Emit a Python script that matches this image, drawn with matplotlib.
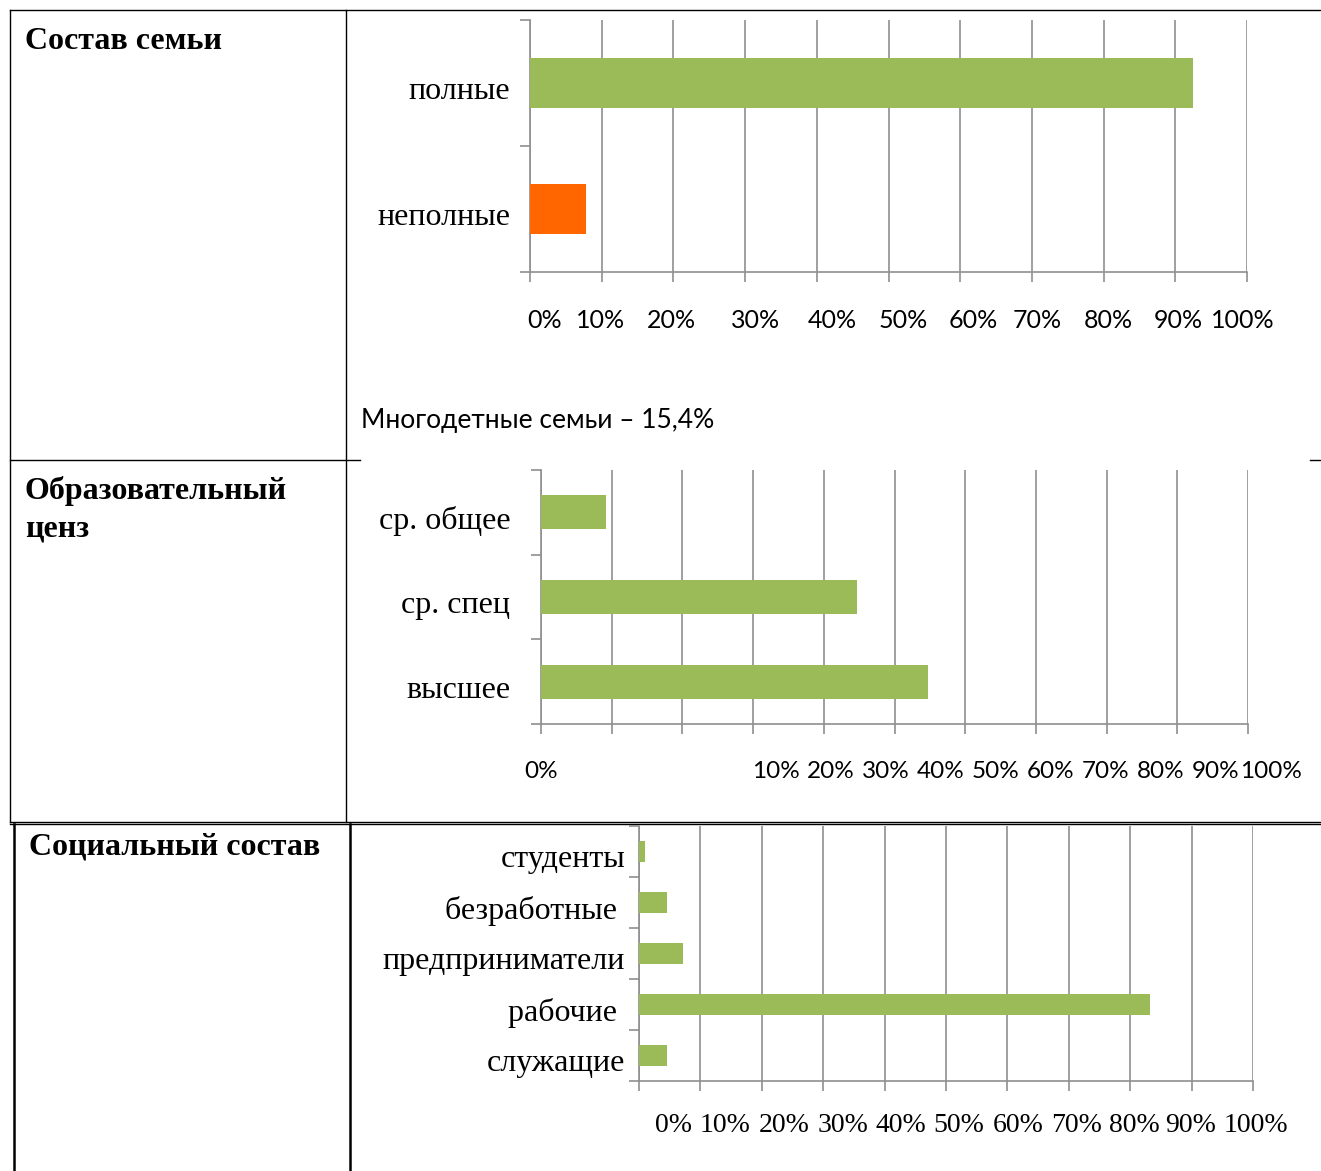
import numpy as np
import matplotlib
matplotlib.use("Agg")
import matplotlib.pyplot as plt
import matplotlib.transforms as mtransforms

# данные
family_cats = ["неполные", "полные"]
family_vals = [7.8, 92.5]
family_colors = ["#FF6600", "#9BBB59"]

edu_cats = ["высшее", "ср. спец", "ср. общее"]
edu_vals = [54.7, 44.7, 9.2]

soc_cats = ["служащие", "рабочие ", "предприниматели", "безработные ", "студенты"]
soc_vals = [4.6, 83.2, 7.2, 4.6, 1.0]

pct_ticks = list(range(0, 101, 10))
pct_labels = [f"{t}%" for t in pct_ticks]

W, H = 1321, 1171
GREEN = "#9BBB59"
GRID = "#8F8F8F"
SERIF = "Liberation Serif"
SANS = "Lato"


def rect(l, t, r, b):
    return [l / W, 1 - b / H, (r - l) / W, (b - t) / H]


fig = plt.figure(figsize=(W / 100, H / 100), dpi=100)

# фон: таблица
bg = fig.add_axes([0, 0, 1, 1])
bg.set_xlim(0, W)
bg.set_ylim(H, 0)
bg.axis("off")

lines = [
    ((10, 1321), (10, 10)),
    ((10, 10), (10, 822)),
    ((346, 346), (10, 822)),
    ((10, 360), (460, 460)),
    ((1310, 1321), (460, 460)),
    ((10, 1321), (822, 822)),
    ((10, 1321), (824, 824)),
]
for xs, ys in lines:
    bg.plot(xs, ys, color="black", lw=1.0)
bg.plot((14, 14), (824, 1171), color="black", lw=1.8)
bg.plot((350, 350), (824, 1171), color="black", lw=1.8)

bold = dict(family=SERIF, fontsize=23, fontweight="bold", va="baseline")
bg.text(25, 49, "Состав семьи", **bold)
bg.text(25, 499, "Образовательный", **bold)
bg.text(25, 537, "ценз", **bold)
bg.text(29, 854, "Социальный состав", **bold)
bg.text(361, 428, "Многодетные семьи – 15,4%", family=SANS, fontsize=19, va="baseline")

# сдвиг подписей категорий чуть вниз (как в Word)
shift_down = mtransforms.ScaledTranslation(0, -5 / 100, fig.dpi_scale_trans)


def bar_chart(box, cats, vals, colors, cat_pad, cat_font):
    ax = fig.add_axes(rect(*box))
    n = len(cats)
    y = np.arange(n)
    ax.barh(y, vals, height=0.4, color=colors, zorder=3)
    for s in ["top", "right"]:
        ax.spines[s].set_visible(False)
    for s in ["left", "bottom"]:
        ax.spines[s].set_color(GRID)
        ax.spines[s].set_linewidth(1.2)
    ax.set_xticks(pct_ticks)
    ax.set_xticklabels([])
    ax.xaxis.grid(True, color=GRID, lw=1.2, zorder=0)
    ax.set_yticks(np.arange(n + 1) - 0.5)
    ax.set_yticklabels([])
    ax.set_yticks(y, minor=True)
    ax.set_yticklabels(cats, minor=True, family=cat_font, fontsize=23)
    ax.tick_params(axis="both", which="major", direction="out", length=7,
                   width=1.2, color=GRID)
    ax.tick_params(axis="y", which="minor", length=0, pad=cat_pad)
    for lab in ax.get_yticklabels(minor=True):
        lab.set_transform(lab.get_transform() + shift_down)
    ax.set_xlim(0, 100)
    ax.set_ylim(-0.5, n - 0.5)
    ax.patch.set_alpha(0)
    return ax


def pct_axis_labels(ax, positions, drop, family, size):
    # подписи оси X стоят не точно под линиями сетки, как в исходнике
    for x, lab in zip(positions, pct_labels):
        ax.annotate(lab, xy=(x, 0), xycoords=("data", "axes fraction"),
                    xytext=(0, -drop), textcoords="offset pixels",
                    ha="center", va="center", family=family, fontsize=size,
                    annotation_clip=False)


# Состав семьи
ax1 = bar_chart((530, 20, 1247, 272), family_cats, family_vals, family_colors, 14, SERIF)
fam_label_pos = [2.0, 9.8, 19.7, 31.4, 42.1, 52.0, 61.8, 70.7, 80.6, 90.4, 99.4]
pct_axis_labels(ax1, fam_label_pos, 49, SANS, 18)

# Образовательный ценз
ax2 = bar_chart((541, 470, 1248, 724), edu_cats, edu_vals, GREEN, 22, SERIF)
edu_label_pos = [0] + list(33.2 + 7.78 * np.arange(10))
pct_axis_labels(ax2, edu_label_pos, 47, SANS, 17.5)

# Социальный состав
ax3 = bar_chart((639, 826, 1253, 1081), soc_cats, soc_vals, GREEN, 10, SERIF)
soc_label_pos = [5.7, 14.0, 23.6, 33.2, 42.7, 52.1, 61.7, 71.3, 80.6, 89.9, 100.5]
pct_axis_labels(ax3, soc_label_pos, 45, SERIF, 20)

fig.savefig("out.png", dpi=100)
